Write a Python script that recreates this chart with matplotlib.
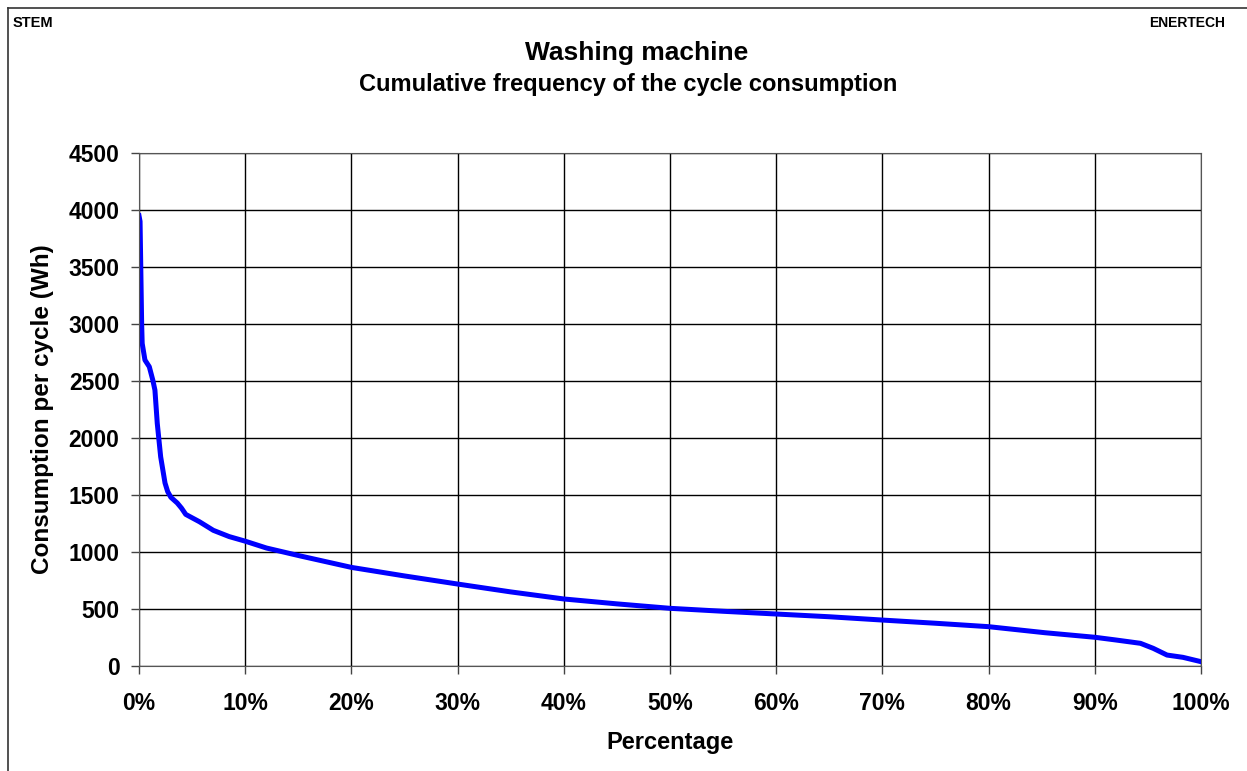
import numpy as np
import matplotlib.pyplot as plt
from matplotlib.lines import Line2D
from matplotlib.ticker import FuncFormatter

plt.rcParams['font.family'] = ['Liberation Sans', 'DejaVu Sans']
plt.rcParams['font.weight'] = 'bold'

# Cumulative frequency curve (percentage of cycles vs consumption in Wh)
pct = [0.0, 0.1, 0.25, 0.3, 0.56, 0.97, 1.3, 1.5, 1.72, 2.04, 2.45, 2.7, 3.0,
       3.6, 4.0, 4.4, 5.0, 5.7, 7.0, 8.5, 10.0, 12.0, 15.2, 20.0, 25.0, 30.0,
       35.0, 40.0, 45.0, 50.0, 55.0, 60.0, 65.0, 70.0, 75.0, 80.0, 85.3,
       90.0, 92.0, 94.3, 95.5, 96.8, 98.3, 100.0]
wh = [3950, 3900, 3000, 2830, 2684, 2625, 2508, 2420, 2128, 1835, 1605, 1530,
      1480, 1430, 1385, 1330, 1300, 1265, 1190, 1135, 1095, 1035, 965, 865,
      790, 719, 650, 588, 545, 506, 480, 456, 432, 403, 375, 345, 292, 252,
      228, 199, 155, 96, 76, 38]

title = 'Washing machine'
subtitle = 'Cumulative frequency of the cycle consumption'
x_ticks = np.arange(0, 101, 10)
y_ticks = np.arange(0, 4501, 500)

W, H = 1247, 771
fig = plt.figure(figsize=(W / 100, H / 100), dpi=100)
ax = fig.add_axes([139 / W, 105 / H, 1062 / W, 513 / H])

ax.plot(pct, wh, color='#0000ff', lw=3.6, solid_joinstyle='round')

ax.set_xlim(0, 100)
ax.set_ylim(0, 4500)
ax.set_xticks(x_ticks)
ax.set_yticks(y_ticks)
ax.xaxis.set_major_formatter(FuncFormatter(lambda v, p: f'{v:.0f}%'))
ax.grid(True, color='black', lw=1.0)
ax.set_axisbelow(True)
ax.tick_params(direction='out', length=6, width=1, labelsize=16.5, color='#444444')
ax.tick_params(axis='y', pad=8)
ax.tick_params(axis='x', pad=13)
for lab in ax.get_xticklabels() + ax.get_yticklabels():
    lab.set_fontweight('bold')
for s in ax.spines.values():
    s.set_color('#555555')

ax.set_xlabel('Percentage', fontsize=17, fontweight='bold', labelpad=11)
ax.set_ylabel('Consumption per cycle (Wh)', fontsize=17.5, fontweight='bold')
ax.yaxis.set_label_coords((54 - 139) / 1062, 0.5)

fig.text(637 / W, 1 - 53 / H, title, ha='center', va='center', fontsize=19, fontweight='bold')
fig.text(628 / W, 1 - 84 / H, subtitle, ha='center', va='center', fontsize=17, fontweight='bold')
fig.text(13 / W, 1 - 23 / H, 'STEM', ha='left', va='center', fontsize=10.5, fontweight='bold')
fig.text(1225 / W, 1 - 23 / H, 'ENERTECH', ha='right', va='center', fontsize=10, fontweight='bold')

# outer frame (top and left edges visible)
fig.add_artist(Line2D([8 / W, 8 / W], [0, 1 - 8 / H], color='#333333', lw=1.2))
fig.add_artist(Line2D([8 / W, 1], [1 - 8 / H, 1 - 8 / H], color='#333333', lw=1.2))

fig.savefig('out.png', dpi=100)
